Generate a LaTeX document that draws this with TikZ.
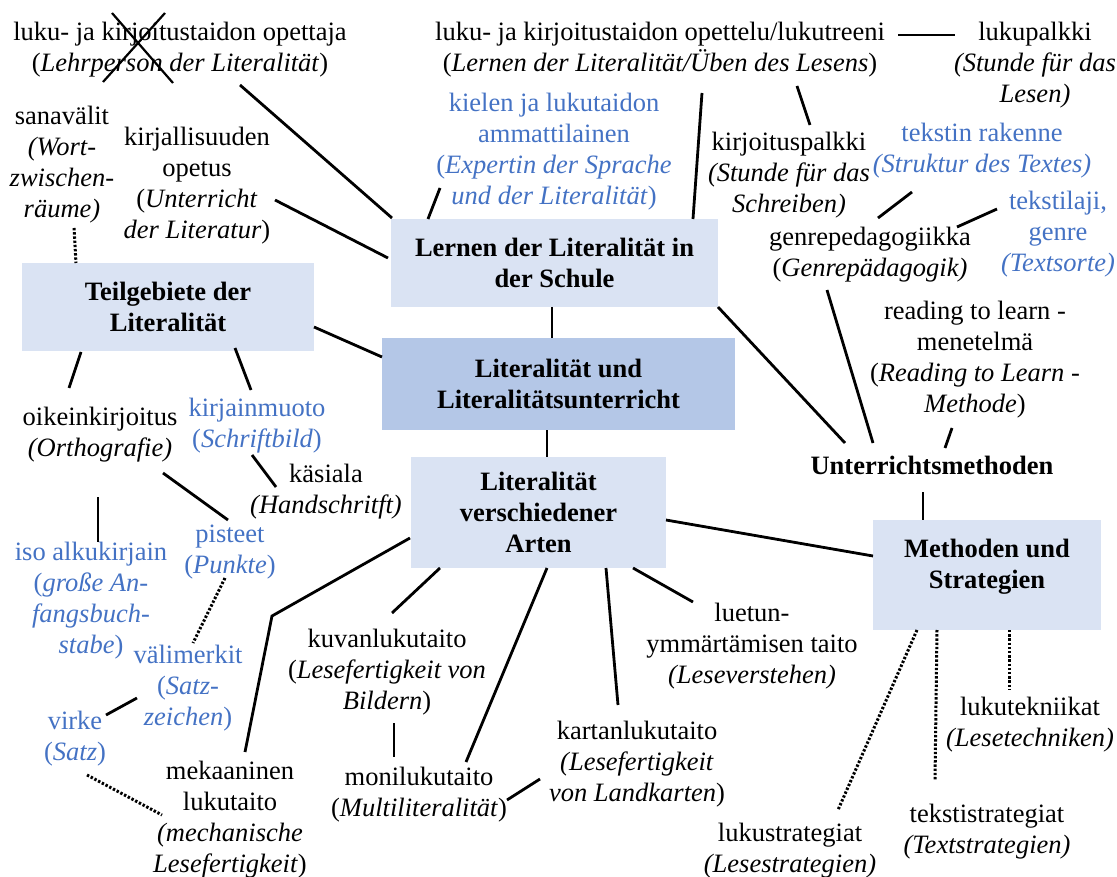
\documentclass[tikz,border=0pt]{standalone}
\usepackage{fontspec}
\setmainfont{Liberation Serif}
\definecolor{boxfill}{HTML}{DAE3F3}
\definecolor{corefill}{HTML}{B4C7E7}
\definecolor{textblue}{HTML}{4472C4}
% place a named node and remember its centre
\newcommand\mknode[5]{%
  \expandafter\xdef\csname nx@#1\endcsname{#2}%
  \expandafter\xdef\csname ny@#1\endcsname{#3}%
  \node[#4] (#1) at (#2,#3) {#5};}
% a point given in picture units, expressed relative to a named node
\newcommand\npt[3]{([shift={({#2-\csname nx@#1\endcsname},{#3-\csname ny@#1\endcsname})}]#1.center)}
\begin{document}
\begin{tikzpicture}[x=1pt,y=-1pt,
  every node/.style={font=\fontsize{26.5pt}{31pt}\selectfont, align=center, inner sep=0pt},
  blu/.style={text=textblue},
  topic/.style={fill=boxfill, font=\fontsize{26.5pt}{31pt}\selectfont\bfseries},
  core/.style={topic, fill=corefill},
  link/.style={line width=2.8pt},
  dotlink/.style={line width=3pt, dash pattern=on 2.4pt off 1.8pt}]
\useasboundingbox (0,0) rectangle (1117,877);

% central topics
\mknode{lernen}{554.5}{263}{topic, minimum width=327pt, minimum height=88pt}{Lernen der Literalität in\\der Schule}
\mknode{lit}{558.5}{384}{core, minimum width=353pt, minimum height=92pt}{Literalität und\\Literalitätsunterricht}
\mknode{teil}{168}{307}{topic, minimum width=292pt, minimum height=88pt}{Teilgebiete der\\Literalität}
\mknode{arten}{538.5}{512.5}{topic, minimum width=255pt, minimum height=111pt}{Literalität\\verschiedener\\Arten}
\mknode{meth}{987}{575}{topic, minimum width=228pt, minimum height=110pt, text depth=22pt}{Methoden und\\Strategien}

% upper labels
\mknode{lehr}{180}{50}{}{luku- ja kirjoitustaidon opettaja\\(\textit{Lehrperson der Literalität})}
\mknode{opettelu}{660}{50}{}{luku- ja kirjoitustaidon opettelu/lukutreeni\\(\textit{Lernen der Literalität/Üben des Lesens})}
\mknode{lukupalkki}{1035}{65}{}{lukupalkki\\\textit{(Stunde für das}\\\textit{Lesen)}}
\mknode{kielen}{554}{151.5}{blu}{kielen ja lukutaidon\\ammattilainen\\(\textit{Expertin der Sprache}\\\textit{und der Literalität})}
\mknode{kirjoitus}{789}{175}{}{kirjoituspalkki\\\textit{(Stunde für das}\\\textit{Schreiben)}}
\mknode{rakenne}{982}{151}{blu}{tekstin rakenne\\\textit{(Struktur des Textes)}}
\mknode{tekstilaji}{1058}{234}{blu}{tekstilaji,\\genre\\\textit{(Textsorte)}}
\mknode{genre}{870}{255}{}{genrepedagogiikka\\(\textit{Genrepädagogik)}}
\mknode{reading}{975}{360}{}{reading to learn -\\menetelmä\\(\textit{Reading to Learn} -\\\textit{Methode})}
\mknode{unter}{932}{465}{font=\fontsize{26.5pt}{31pt}\selectfont\bfseries}{Unterrichtsmethoden}
\mknode{sana}{62}{164.5}{}{sanavälit\\\textit{(Wort-}\\\textit{zwischen-}\\\textit{räume)}}
\mknode{kirj}{197}{186}{}{kirjallisuuden\\opetus\\(\textit{Unterricht}\\\textit{der Literatur})}

% left branch
\mknode{oik}{100}{435}{}{oikeinkirjoitus\\\textit{(Orthografie)}}
\mknode{kirjain}{257}{426}{blu}{kirjainmuoto\\(\textit{Schriftbild})}
\mknode{kasiala}{326}{492}{}{käsiala\\\textit{(Handschritft)}}
\mknode{iso}{91}{601}{blu}{iso alkukirjain\\(\textit{große An-}\\\textit{fangsbuch-}\\\textit{stabe})}
\mknode{pisteet}{230}{552}{blu}{pisteet\\(\textit{Punkte})}
\mknode{vali}{188}{688}{blu}{välimerkit\\(\textit{Satz-}\\\textit{zeichen})}
\mknode{virke}{75}{739}{blu}{virke\\(\textit{Satz})}
\mknode{mek}{230}{820}{}{mekaaninen\\lukutaito\\\textit{(mechanische}\\\textit{Lesefertigkeit})}

% lower branch
\mknode{kuv}{387}{672}{}{kuvanlukutaito\\(\textit{Lesefertigkeit von}\\\textit{Bildern})}
\mknode{moni}{419}{795}{}{monilukutaito\\(\textit{Multiliteralität})}
\mknode{kart}{637}{764}{}{kartanlukutaito\\\textit{(Lesefertigkeit}\\\textit{von Landkarten})}
\mknode{luetun}{752}{646}{}{luetun-\\ymmärtämisen taito\\\textit{(Leseverstehen)}}
\mknode{tekniikat}{1030}{725}{}{lukutekniikat\\\textit{(Lesetechniken)}}
\mknode{tekstistr}{987}{832}{}{tekstistrategiat\\\textit{(Textstrategien)}}
\mknode{lukustr}{790}{851}{}{lukustrategiat\\\textit{(Lesestrategien)}}

% crossing-out mark
\draw[line width=2.2pt] \npt{lehr}{112}{13} -- \npt{lehr}{173}{83};
\draw[line width=2.2pt] \npt{lehr}{165}{13} -- \npt{lehr}{103}{82};

% connectors
\draw[link] \npt{lehr}{240}{85} -- \npt{lernen}{392}{218};
\draw[link] \npt{kirj}{275}{200} -- \npt{lernen}{388}{258};
\draw[dotlink] \npt{sana}{74}{228} -- \npt{teil}{76}{263};
\draw[link] \npt{teil}{314}{327} -- \npt{lit}{382}{357};
\draw[link] \npt{lernen}{552}{307} -- \npt{lit}{552}{338};
\draw[link] \npt{kielen}{440}{188} -- \npt{lernen}{428}{219};
\draw[link] \npt{opettelu}{702}{93} -- \npt{lernen}{693}{219};
\draw[link] \npt{opettelu}{898}{35} -- \npt{lukupalkki}{955}{35};
\draw[link] \npt{opettelu}{797}{86} -- \npt{kirjoitus}{810}{125};
\draw[link] \npt{rakenne}{912}{192} -- \npt{genre}{878}{218};
\draw[link] \npt{tekstilaji}{997}{209} -- \npt{genre}{957}{227};
\draw[link] \npt{genre}{827}{290} -- \npt{unter}{873}{443};
\draw[link] \npt{reading}{952}{428} -- \npt{unter}{945}{448};
\draw[link] \npt{lernen}{718}{307} -- \npt{unter}{845}{443};
\draw[link] \npt{unter}{923}{492} -- \npt{meth}{923}{520};
\draw[link] \npt{lit}{547}{430} -- \npt{arten}{547}{457};
\draw[link] \npt{teil}{81}{352} -- \npt{oik}{69}{388};
\draw[link] \npt{teil}{235}{348} -- \npt{kirjain}{251}{390};
\draw[link] \npt{kirjain}{252}{455} -- \npt{kasiala}{276}{487};
\draw[link] \npt{oik}{163}{473} -- \npt{pisteet}{228}{520};
\draw[link] \npt{oik}{98}{497} -- \npt{iso}{98}{542};
\draw[dotlink] \npt{pisteet}{225}{578} -- \npt{vali}{193}{643};
\draw[link] \npt{vali}{137}{698} -- \npt{virke}{106}{715};
\draw[dotlink] \npt{virke}{87}{775} -- \npt{mek}{162}{815};
\draw[link] \npt{arten}{410}{538} -- \npt{arten}{272}{616} -- \npt{mek}{245}{752};
\draw[link] \npt{arten}{440}{568} -- \npt{kuv}{392}{613};
\draw[link] \npt{kuv}{394}{723} -- \npt{moni}{394}{757};
\draw[link] \npt{arten}{547}{568} -- \npt{moni}{466}{762};
\draw[link] \npt{moni}{507}{800} -- \npt{kart}{540}{779};
\draw[link] \npt{arten}{606}{568} -- \npt{kart}{618}{705};
\draw[link] \npt{arten}{633}{568} -- \npt{luetun}{693}{602};
\draw[link] \npt{arten}{666}{520} -- \npt{meth}{873}{556};
\draw[dotlink] \npt{meth}{917}{630} -- \npt{lukustr}{838}{810};
\draw[dotlink] \npt{meth}{937}{630} -- \npt{tekstistr}{935}{780};
\draw[dotlink] \npt{meth}{1009}{630} -- \npt{tekniikat}{1009}{690};
\end{tikzpicture}
\end{document}
